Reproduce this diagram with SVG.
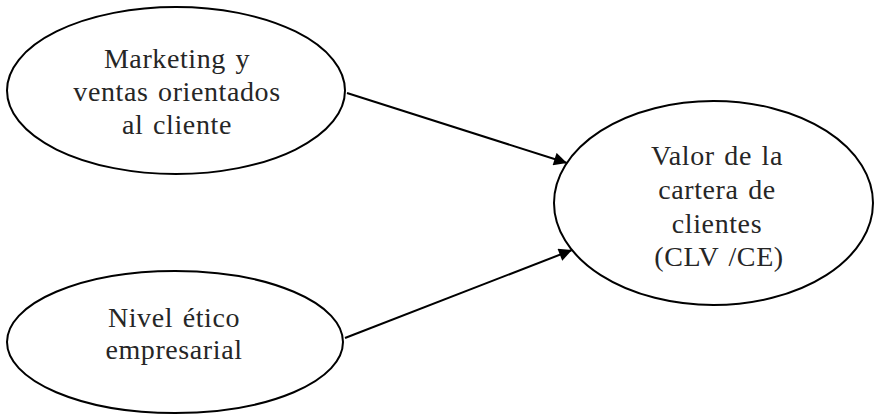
<svg xmlns="http://www.w3.org/2000/svg" width="875" height="414" viewBox="0 0 875 414">
<style>
.node ellipse{fill:#fff;stroke:#000;stroke-width:2}
.node text{font-family:"Liberation Serif","Times New Roman",serif;font-size:28px;letter-spacing:0.6px;word-spacing:2px;fill:#262626;text-anchor:middle}
.edge{stroke:#000;stroke-width:2;fill:none;marker-end:url(#arrow)}
</style>
<defs>
<marker id="arrow" viewBox="0 0 10 10" refX="10" refY="5" markerUnits="userSpaceOnUse" markerWidth="16" markerHeight="13" orient="auto">
<path d="M0,0 L10,5 L0,10 z" fill="#000"/>
</marker>
</defs>
<rect width="875" height="414" fill="#fff"/>
<g id="n1" class="node">
<ellipse cx="176" cy="90.5" rx="169" ry="83.5"/>
<text x="177" y="68">Marketing y</text>
<text x="177" y="101">ventas orientados</text>
<text x="177" y="134">al cliente</text>
</g>
<g id="n2" class="node">
<ellipse cx="175" cy="342" rx="168" ry="71"/>
<text x="174" y="327">Nivel ético</text>
<text x="174" y="359">empresarial</text>
</g>
<g id="n3" class="node">
<ellipse cx="713.5" cy="203" rx="159.5" ry="102"/>
<text x="717" y="165">Valor de la</text>
<text x="717" y="199">cartera de</text>
<text x="717" y="233">clientes</text>
<text x="719" y="266">(CLV /CE)</text>
</g>
<g id="edges">
<path class="edge" d="M347,93 L567,163"/>
<path class="edge" d="M345,338 L572,250"/>
</g>
</svg>
